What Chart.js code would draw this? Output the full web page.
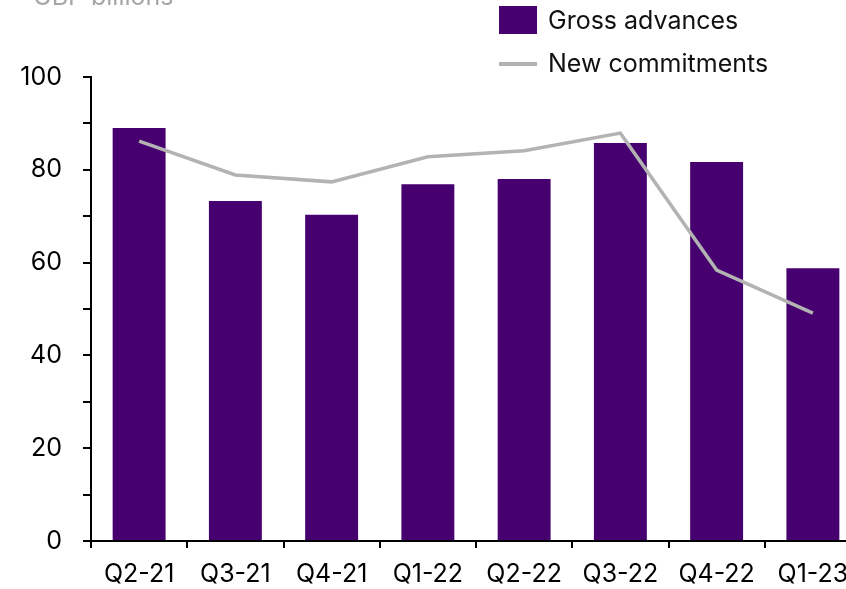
<!DOCTYPE html>
<html>
<head>
<meta charset="utf-8">
<script src="https://cdn.jsdelivr.net/npm/chart.js@4"></script>
<style>
  html, body { margin: 0; padding: 0; background: #fff; overflow: hidden; width: 846px; height: 589px; }
  #wrap { position: relative; width: 861px; height: 589px; }
  .legend { position: absolute; left: 499px; font: 25px Inter, "Noto Sans", sans-serif; color: #111; }
  .legend div { position: relative; height: 43px; line-height: 30px; padding-left: 49px; }
  .sw-bar { position: absolute; left: 0; top: 1px; width: 38px; height: 28px; background: #470070; }
  .sw-line { position: absolute; left: 0; top: 14px; width: 38px; height: 4px; background: #b3b3b3; }
</style>
</head>
<body>
<div id="wrap">
  <canvas id="chart" width="861" height="589"></canvas>
  <div class="legend" style="top:5px">
    <div><span class="sw-bar"></span>Gross advances</div>
    <div><span class="sw-line"></span>New commitments</div>
  </div>
</div>
<script>
const quarters = ['Q2-21', 'Q3-21', 'Q4-21', 'Q1-22', 'Q2-22', 'Q3-22', 'Q4-22', 'Q1-23']
const grossAdvances = [89.0, 73.3, 70.3, 76.9, 78.0, 85.8, 81.7, 58.8]
const newCommitments = [86.2, 78.9, 77.4, 82.8, 84.1, 87.9, 58.4, 49.1]
const yTicks = [0, 20, 40, 60, 80, 100]

const font = { family: 'Inter, "Noto Sans", sans-serif', size: 25 }

// unit label at the top, mostly cut off by the page edge
const unitLabel = {
  id: 'unitLabel',
  afterDraw(chart) {
    const ctx = chart.ctx
    ctx.save()
    ctx.font = '25px Inter, "Noto Sans", sans-serif'
    ctx.fillStyle = '#a6a6a6'
    ctx.textBaseline = 'alphabetic'
    ctx.fillText('GBP billions', 33, 5)
    ctx.restore()
  }
}

new Chart(document.getElementById('chart'), {
  data: {
    labels: quarters,
    datasets: [
      {
        type: 'line',
        label: 'New commitments',
        data: newCommitments,
        borderColor: '#b3b3b3',
        borderWidth: 3.5,
        pointRadius: 0,
        tension: 0,
        order: 0
      },
      {
        type: 'bar',
        label: 'Gross advances',
        data: grossAdvances,
        backgroundColor: '#470070',
        categoryPercentage: 1,
        barPercentage: 0.55,
        order: 1
      }
    ]
  },
  options: {
    responsive: false,
    animation: false,
    layout: { padding: { top: 77, right: 0, left: 0, bottom: 0 } },
    plugins: { legend: { display: false }, tooltip: { enabled: false } },
    scales: {
      x: {
        grid: { drawOnChartArea: false, offset: true, tickLength: 7, color: '#000', lineWidth: 2 },
        border: { color: '#000', width: 2 },
        ticks: { color: '#000', font: font, padding: 11, autoSkip: false, maxRotation: 0 },
        afterFit(scale) { scale.height = 48 }
      },
      y: {
        min: 0,
        max: 100,
        grid: { drawOnChartArea: false, tickLength: 8, color: '#000', lineWidth: 2 },
        border: { color: '#000', width: 2 },
        ticks: {
          stepSize: 10,
          color: '#000',
          font: font,
          padding: 21,
          callback: v => yTicks.includes(v) ? String(v) : ''
        },
        afterFit(scale) { scale.width = 91 }
      }
    }
  },
  plugins: [unitLabel]
})
</script>
</body>
</html>
